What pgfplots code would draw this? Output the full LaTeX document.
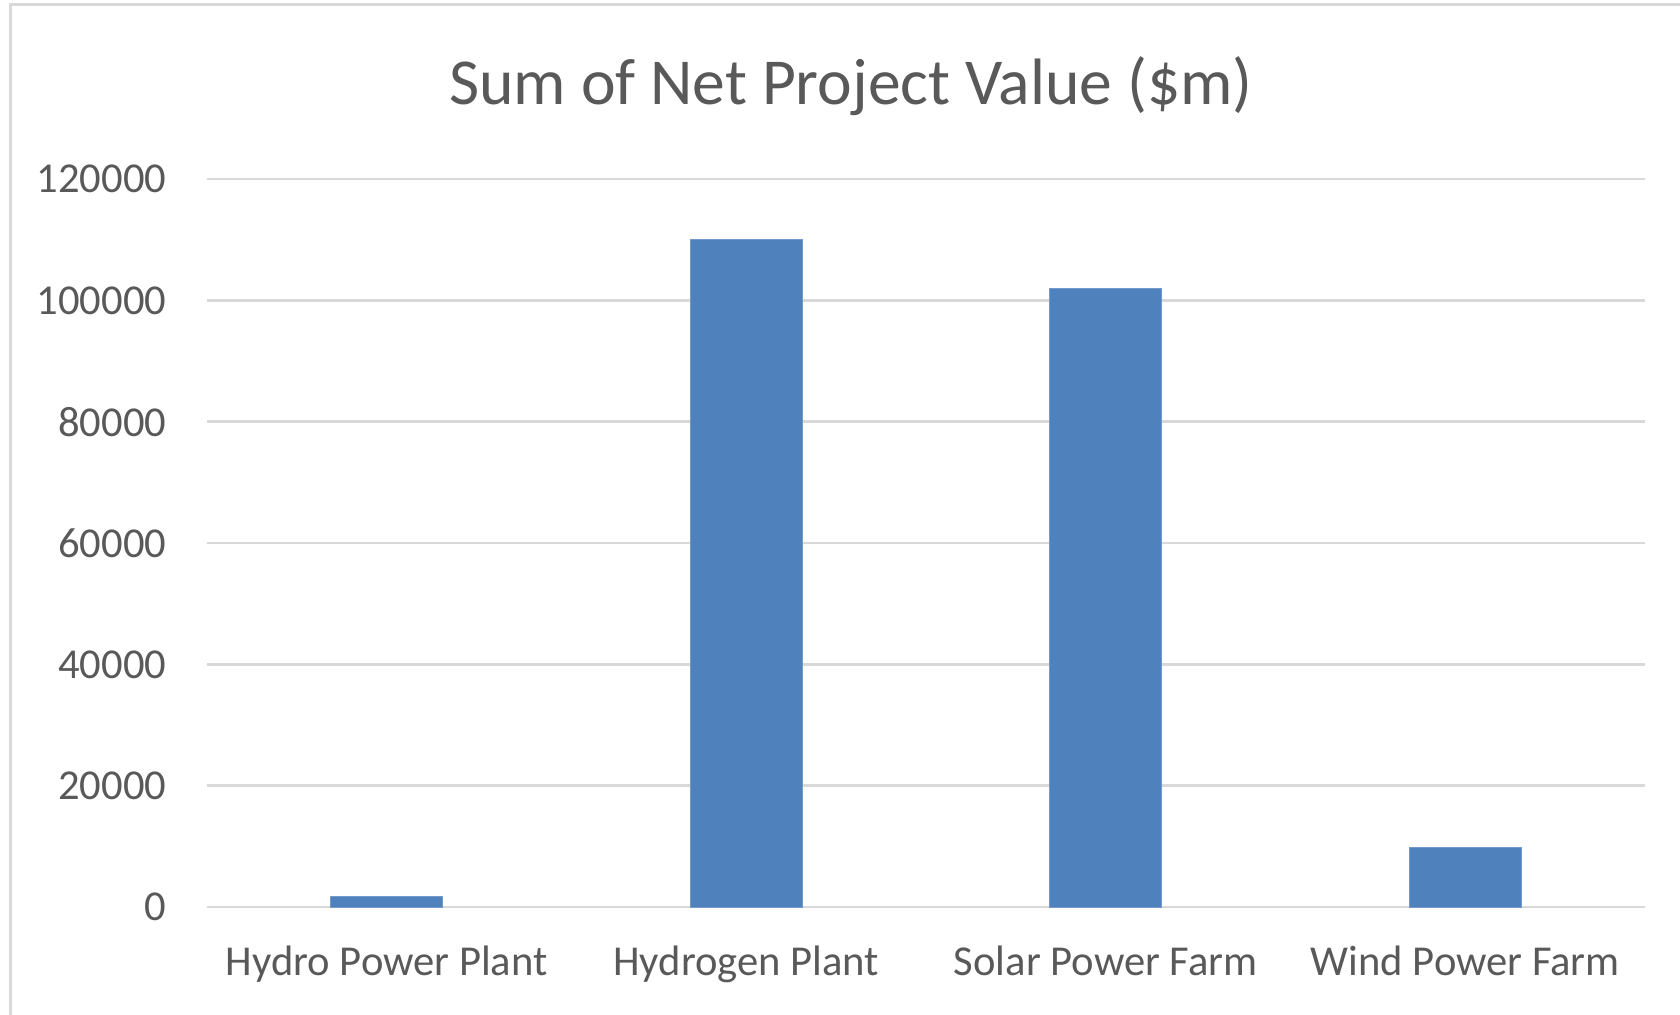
\documentclass[border=0pt]{standalone}
\usepackage{pgfplots}
\pgfplotsset{compat=1.18}
\usepackage{fontspec}
\setmainfont{Carlito}
\definecolor{txt}{HTML}{595959}
\definecolor{grd}{HTML}{D9D9D9}
\definecolor{bar}{HTML}{4F81BD}
\begin{document}
\begin{tikzpicture}[x=0.25pt,y=-0.25pt]
\useasboundingbox (0,0) rectangle (1680,1015);
\begin{scope}
\clip (0,0) rectangle (1680,1015);
\draw[grd, line width=0.75pt] (10,1100) -- (10,5) -- (1800,5);
\end{scope}
\node[anchor=base, text=txt, font=\fontsize{16.4pt}{20pt}\selectfont, inner sep=0pt] at (851,105) {Sum of Net Project Value (\$m)};
\begin{axis}[
  at={(51.75pt,-226.75pt)}, anchor=south west,
  scale only axis, width=359.5pt, height=182pt,
  xmin=-0.5, xmax=3.5, ymin=0, ymax=120000,
  axis line style={draw=none},
  ytick={0,20000,40000,60000,80000,100000,120000},
  yticklabels={0,20000,40000,60000,80000,100000,120000},
  scaled y ticks=false,
  ymajorgrids, grid style={grd, line width=0.6pt},
  major tick length=0pt,
  xtick=data,
  xticklabels={Hydro Power Plant, Hydrogen Plant, Solar Power Farm, Wind Power Farm},
  tick label style={text=txt, font=\fontsize{10.65pt}{13pt}\selectfont, inner sep=0pt},
  yticklabel style={anchor=east, xshift=-10pt},
  xticklabel style={anchor=base, yshift=-17pt},
  clip=false,
]
\addplot[ybar, bar width=28pt, fill=bar, draw=bar!80!white, line width=0.2pt] coordinates {
  (0,1800) (1,110000) (2,102000) (3,9800)
};
\end{axis}
\end{tikzpicture}
\end{document}
